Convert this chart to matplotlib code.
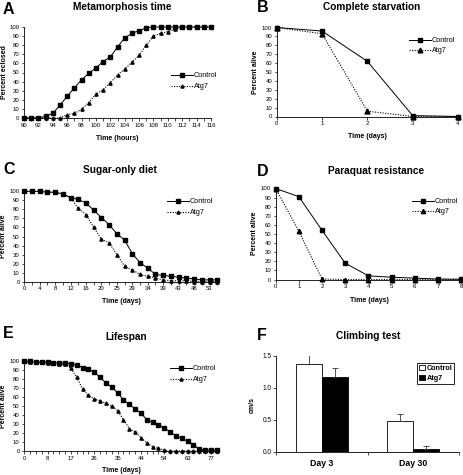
import matplotlib
matplotlib.use('Agg')
import matplotlib.pyplot as plt
from matplotlib.lines import Line2D
from matplotlib.patches import Patch
import numpy as np

plt.rcParams['font.family'] = ['Liberation Sans', 'DejaVu Sans']

# ---------------- data ----------------
A_hours = list(range(90, 117))
A_control = [0, 0, 0, 2, 5, 14, 24, 33, 42, 49, 55, 62, 67, 78, 88, 93, 96, 99,
             100, 100, 100, 100, 100, 100, 100, 100, 100]
A_atg7 = [0, 0, 0, 0, 0, 0, 3.7, 5, 9.5, 17, 26, 31, 39, 47, 54, 61, 69, 80, 90,
          93, 95, 97.5, 100, 100, 100, 100, 100]

B_days = [0, 1, 2, 3, 4]
B_control = [100, 96, 62, 1, 0]
B_atg7 = [100, 93, 6, 0, 0]

C_labels = ['0', '4', '8', '12', '16', '20', '25', '29', '34', '39', '43', '48', '53']
C_control = [100, 100, 100, 99, 99, 97, 93, 91, 87, 79, 71, 63, 53, 46, 31, 21,
             15, 8, 7, 6, 5, 4, 3, 2, 2, 2]
C_atg7 = [100, 100, 100, 99, 99, 97, 93, 81, 74, 60, 47, 43, 30, 17, 13, 8, 6, 4,
          2, 1, 1, 1, 0, 0, 0, 0]

D_days = [0, 1, 2, 3, 4, 5, 6, 7, 8]
D_control = [100, 91, 54, 18, 4, 2.5, 1.5, 0.5, 0.3]
D_atg7 = [100, 53, 0.5, 0, 0, 0, 0, 0, 0]

E_labels = ['0', '8', '17', '26', '35', '44', '54', '63', '77']
E_control = [100, 100, 99, 99, 99, 98.5, 98, 98, 97, 96, 93, 91, 88, 82, 76, 71,
             65, 57, 52, 47, 42, 35, 32, 29, 26, 21, 17, 14, 11, 7, 2, 1, 1, 1]
E_atg7 = [100, 99, 99, 99, 98, 98, 97, 97, 92, 82, 69, 62, 58, 56, 53, 50, 45, 35,
          25, 21, 15, 9, 5, 3, 1, 0, 0, 0, 0, 0, 0, 0, 0, 0]

F_cats = ['Day 3', 'Day 30']
F_control = [1.37, 0.48]
F_control_err = [0.14, 0.11]
F_atg7 = [1.17, 0.04]
F_atg7_err = [0.14, 0.05]

# ---------------- layout helpers ----------------
W, H = 463, 475
fig = plt.figure(figsize=(W / 100, H / 100), dpi=100)


def add_ax(l, r, t, b):
    return fig.add_axes([l / W, 1 - b / H, (r - l) / W, (b - t) / H])


def ftext(x, y, s, **kw):
    fig.text(x / W, 1 - y / H, s, **kw)


def style(ax):
    for s in ['top', 'right']:
        ax.spines[s].set_visible(False)
    for s in ['left', 'bottom']:
        ax.spines[s].set_linewidth(0.6)
    ax.tick_params(axis='both', labelsize=4.3, length=1.8, width=0.5, pad=1.5)


def plot_pair(ax, x, c, a, ms):
    ax.plot(x, a, color='black', lw=0.8, ls=(0, (1, 1.3)), marker='^', ms=ms * 1.05,
            clip_on=False, zorder=3)
    ax.plot(x, c, color='black', lw=0.7, marker='s', ms=ms, clip_on=False, zorder=4)


def legend(ax, x, y, ms, spacing=0.6):
    h = [Line2D([], [], color='black', lw=0.7, marker='s', ms=ms),
         Line2D([], [], color='black', lw=0.8, ls=(0, (1, 1.3)), marker='^', ms=ms)]
    ax.legend(h, ['Control', 'Atg7'], loc='upper left',
              bbox_to_anchor=(x / W, 1 - y / H), bbox_transform=fig.transFigure,
              frameon=False, fontsize=5.2, handlelength=3.0, handletextpad=0.2,
              labelspacing=spacing, borderpad=0, borderaxespad=0)


def header(lx, ly, letter, tx, ty, title):
    ftext(lx, ly, letter, fontsize=11.5, fontweight='bold', ha='left', va='center')
    ftext(tx, ty, title, fontsize=7.3, fontweight='bold', ha='center', va='center')


# ---------------- A ----------------
ax = add_ax(24, 211, 27, 118)
style(ax)
plot_pair(ax, A_hours, A_control, A_atg7, 2.2)
ax.set_xlim(90, 116)
ax.set_ylim(0, 100)
ax.set_yticks(range(0, 101, 10))
ax.set_xticks(A_hours)
ax.set_xticklabels([str(h) if h % 2 == 0 else '' for h in A_hours])
legend(ax, 171, 72, 2.2)
header(3, 9, 'A', 122, 7, 'Metamorphosis time')
ftext(5, 72.5, 'Percent eclosed', fontsize=5, fontweight='bold', rotation=90,
      ha='center', va='center')
ftext(117.5, 138, 'Time (hours)', fontsize=5, fontweight='bold', ha='center', va='center')

# ---------------- B ----------------
ax = add_ax(276.7, 458, 27.5, 116.5)
style(ax)
plot_pair(ax, B_days, B_control, B_atg7, 3.4)
ax.set_xlim(0, 4)
ax.set_ylim(0, 100)
ax.set_yticks(range(0, 101, 10))
ax.set_xticks(B_days)
legend(ax, 409, 37, 3.4, spacing=0.45)
header(257, 8, 'B', 372, 7, 'Complete starvation')
ftext(255.5, 72, 'Percent alive', fontsize=5, fontweight='bold', rotation=90,
      ha='center', va='center')
ftext(367, 136, 'Time (days)', fontsize=5, fontweight='bold', ha='center', va='center')

# ---------------- C ----------------
ax = add_ax(24.3, 218, 191.3, 281.7)
style(ax)
xc = np.arange(len(C_control))
plot_pair(ax, xc, C_control, C_atg7, 2.2)
ax.set_xlim(0, 25.1)
ax.set_ylim(0, 100)
ax.set_yticks(range(0, 101, 10))
ax.set_xticks(xc)
ax.set_xticklabels([C_labels[i // 2] if i % 2 == 0 and i // 2 < len(C_labels) else ''
                    for i in xc])
legend(ax, 167, 198, 2.2)
header(3, 169, 'C', 120, 170, 'Sugar-only diet')
ftext(4, 236, 'Percent alive', fontsize=5, fontweight='bold', rotation=90,
      ha='center', va='center')
ftext(121, 301.5, 'Time (days)', fontsize=5, fontweight='bold', ha='center', va='center')

# ---------------- D ----------------
ax = add_ax(275.7, 461, 188.5, 279.5)
style(ax)
plot_pair(ax, D_days, D_control, D_atg7, 3.1)
ax.set_xlim(0, 8)
ax.set_ylim(0, 100)
ax.set_yticks(range(0, 101, 10))
ax.set_xticks(D_days)
legend(ax, 412, 198, 3.1, spacing=0.45)
header(257, 171, 'D', 376, 171, 'Paraquat resistance')
ftext(254.5, 233, 'Percent alive', fontsize=5, fontweight='bold', rotation=90,
      ha='center', va='center')
ftext(369, 300, 'Time (days)', fontsize=5, fontweight='bold', ha='center', va='center')

# ---------------- E ----------------
ax = add_ax(24.3, 218, 361.3, 451)
style(ax)
xe = np.arange(len(E_control))
plot_pair(ax, xe, E_control, E_atg7, 2.2)
ax.set_xlim(0, 33.2)
ax.set_ylim(0, 100)
ax.set_yticks(range(0, 101, 10))
ax.set_xticks(xe)
ax.set_xticklabels([E_labels[i // 4] if i % 4 == 0 and i // 4 < len(E_labels) else ''
                    for i in xe])
legend(ax, 170, 365, 2.2)
header(3, 334, 'E', 126, 337, 'Lifespan')
ftext(4, 406, 'Percent alive', fontsize=5, fontweight='bold', rotation=90,
      ha='center', va='center')
ftext(121, 471, 'Time (days)', fontsize=5, fontweight='bold', ha='center', va='center')

# ---------------- F ----------------
ax = add_ax(276.3, 458.7, 356, 452)
for s in ['top', 'right']:
    ax.spines[s].set_visible(False)
for s in ['left', 'bottom']:
    ax.spines[s].set_linewidth(0.6)
xf = np.arange(len(F_cats))
w = 0.285
ax.bar(xf - w / 2, F_control, w, color='white', edgecolor='black', lw=0.6,
       yerr=[[0] * len(F_control), F_control_err],
       error_kw=dict(ecolor='#333333', elinewidth=0.6, capsize=2, capthick=0.6), zorder=2)
ax.bar(xf + w / 2, F_atg7, w, color='black', edgecolor='black', lw=0.6,
       yerr=[[0] * len(F_atg7), F_atg7_err],
       error_kw=dict(ecolor='#333333', elinewidth=0.6, capsize=2, capthick=0.6), zorder=2)
ax.set_xlim(-0.5, 1.5)
ax.set_ylim(0, 1.5)
ax.set_yticks([0, 0.5, 1.0, 1.5])
ax.set_yticklabels(['%.1f' % v for v in [0, 0.5, 1.0, 1.5]])
ax.tick_params(axis='y', labelsize=4.7, length=2, width=0.5, pad=1.5)
ax.set_xticks([-0.5, 0.5, 1.5])
ax.set_xticklabels(['', '', ''])
ax.tick_params(axis='x', length=2.5, width=0.5)
ax.set_xticks(xf, minor=True)
ax.set_xticklabels(F_cats, minor=True, fontsize=6.3, fontweight='bold')
ax.tick_params(axis='x', which='minor', length=0, pad=5)
ax.legend([Patch(facecolor='white', edgecolor='black', lw=0.6),
           Patch(facecolor='black', edgecolor='black', lw=0.6)],
          ['Control', 'Atg7'], loc='upper left',
          bbox_to_anchor=(417 / W, 1 - 363 / H), bbox_transform=fig.transFigure,
          frameon=True, fancybox=False, edgecolor='black', framealpha=1,
          prop={'weight': 'bold', 'size': 5.2}, handlelength=0.8, handleheight=0.8,
          handletextpad=0.3, labelspacing=0.35, borderpad=0.25, borderaxespad=0)
ax.get_legend().get_frame().set_linewidth(0.6)
header(257, 336, 'F', 368, 336, 'Climbing test')
ftext(252, 405, 'cm/s', fontsize=5, fontweight='bold', rotation=90,
      ha='center', va='center')

fig.savefig('out.png', dpi=100)
